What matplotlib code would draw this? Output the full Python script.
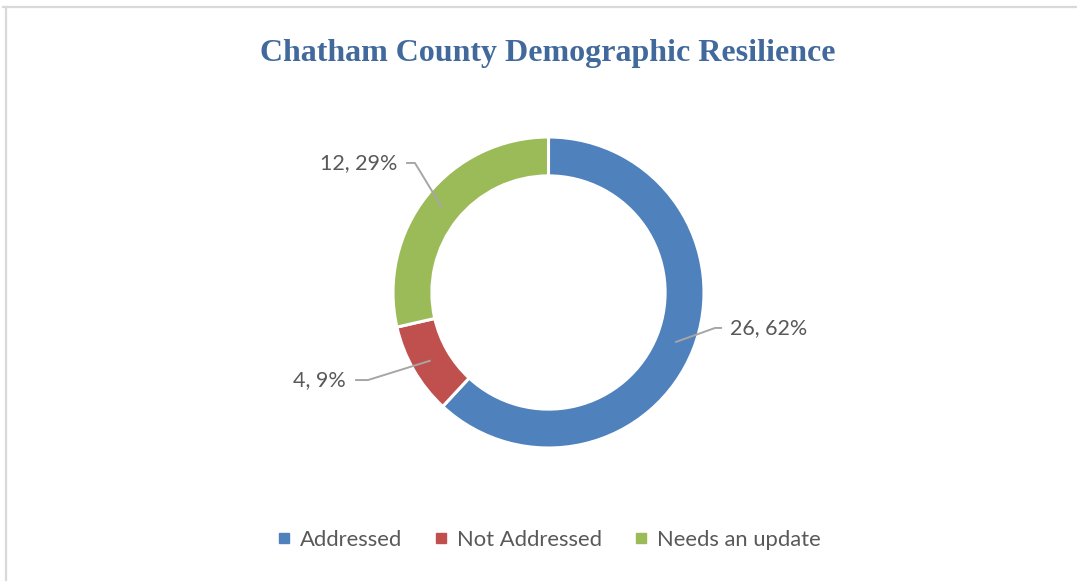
import matplotlib
matplotlib.use("Agg")
import matplotlib.pyplot as plt
from matplotlib.lines import Line2D
import numpy as np

# Data
categories = ["Addressed", "Not Addressed", "Needs an update"]
counts = [26, 4, 12]
pct_labels = ["62%", "9%", "29%"]
colors = ["#4F81BD", "#C0504D", "#9BBB59"]

title = "Chatham County Demographic Resilience"

W, H, DPI = 1077, 581, 100
fig = plt.figure(figsize=(W / DPI, H / DPI), dpi=DPI)
fig.patch.set_facecolor("white")

# Chart frame (top and left edges visible)
frame_color = "#D9D9D9"
fig.add_artist(Line2D([3 / W, 1.0], [1 - 7 / H, 1 - 7 / H], transform=fig.transFigure,
                      color=frame_color, lw=1.6))
fig.add_artist(Line2D([6 / W, 6 / W], [0.0, 1 - 7 / H], transform=fig.transFigure,
                      color=frame_color, lw=1.6))

# Donut axes: centre and radius in pixels
cx, cy, R = 548.5, 292.5, 155.5
ax = fig.add_axes([(cx - R) / W, 1 - (cy + R) / H, 2 * R / W, 2 * R / H])
ax.set_aspect("equal")
ax.axis("off")

width = 0.25
wedges, _ = ax.pie(counts, colors=colors, startangle=90, counterclock=False,
                   radius=1.0, wedgeprops=dict(width=width, edgecolor="white", linewidth=2.2))
ax.set_xlim(-1, 1)
ax.set_ylim(-1, 1)

# Data labels with leader lines
label_font = ["Lato", "DejaVu Sans"]
label_color = "#595959"
leader_color = "#A6A6A6"
# text anchor (x, y), horizontal alignment, elbow x, line end x near the text
layout = [
    ((1.167, -0.228), "left", 1.071, 1.116),
    ((-1.302, -0.563), "right", -1.161, -1.244),
    ((-0.974, 0.833), "right", -0.859, -0.916),
]
for w, n, p, (txy, ha, ex, lx) in zip(wedges, counts, pct_labels, layout):
    mid = np.deg2rad((w.theta1 + w.theta2) / 2)
    r_mid = 1 - width / 2
    ax_, ay_ = r_mid * np.cos(mid), r_mid * np.sin(mid)
    ax.plot([ax_, ex, lx], [ay_, txy[1], txy[1]], color=leader_color, lw=1.4,
            solid_capstyle="butt", clip_on=False)
    ax.text(txy[0], txy[1], f"{n}, {p}", ha=ha, va="center", fontsize=15.5,
            family=label_font, color=label_color, clip_on=False)

# Title
fig.text(548 / W, 1 - 54 / H, title, ha="center", va="center", fontsize=23,
         fontweight="bold", family=["Liberation Serif", "DejaVu Serif"], color="#41699C")

# Legend
handles = [Line2D([0], [0], marker="s", linestyle="none", markersize=6.5,
                  markerfacecolor=c, markeredgecolor=c) for c in colors]
leg = fig.legend(handles, categories, loc="center", bbox_to_anchor=(549 / W, 1 - 540 / H),
                 ncol=3, frameon=False, handlelength=0.6, handletextpad=0.4,
                 columnspacing=1.5, prop=dict(family=label_font, size=15.8))
for t in leg.get_texts():
    t.set_color(label_color)

fig.savefig("out.png", dpi=DPI, facecolor="white")
